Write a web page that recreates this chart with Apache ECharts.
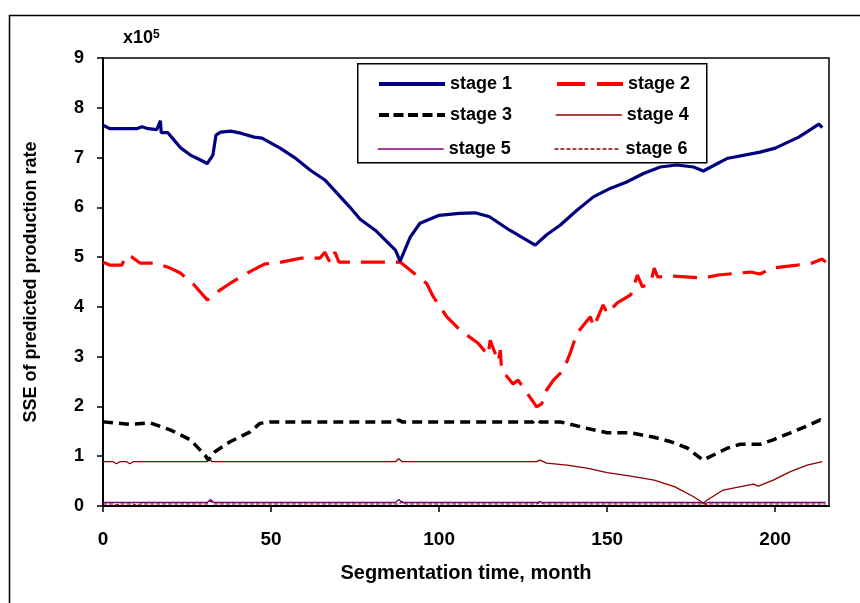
<!DOCTYPE html>
<html>
<head>
<meta charset="utf-8">
<script src="https://cdn.jsdelivr.net/npm/echarts@6/dist/echarts.min.js"></script>
<style>html,body{margin:0;padding:0;background:#fff;}#c{width:860px;height:603px;}</style>
</head>
<body>
<div id="c"></div>
<script>
// Values in units of 1e5
const xTicks = [0, 50, 100, 150, 200];
const yTicks = [0, 1, 2, 3, 4, 5, 6, 7, 8, 9];
const seriesNames = ['stage 1', 'stage 2', 'stage 3', 'stage 4', 'stage 5', 'stage 6'];

const stage1X = [0, 2, 10, 11.6, 13.4, 16, 17.1, 17.3, 19.3, 21.4, 23, 26, 29, 31, 32.7, 33.6, 35, 38, 41, 45, 47.3, 52.7, 57, 61.6, 66, 70.5, 73.5, 76.5, 81, 87, 88.4, 91.4, 94.3, 100, 106, 110.7, 115, 121, 128.6, 132, 136, 141, 145.9, 150.9, 155.8, 160.8, 165.8, 170.7, 175.7, 178.6, 185.6, 195.5, 200, 207, 213, 214];
const stage1Y = [7.65, 7.58, 7.58, 7.62, 7.58, 7.56, 7.74, 7.5, 7.5, 7.33, 7.2, 7.05, 6.95, 6.88, 7.05, 7.45, 7.51, 7.53, 7.49, 7.41, 7.39, 7.19, 7.0, 6.75, 6.55, 6.22, 6.0, 5.76, 5.54, 5.14, 4.92, 5.4, 5.68, 5.84, 5.88, 5.89, 5.81, 5.54, 5.24, 5.45, 5.64, 5.94, 6.21, 6.38, 6.51, 6.68, 6.81, 6.85, 6.81, 6.73, 6.98, 7.11, 7.19, 7.41, 7.67, 7.6];

const stage2X = [0, 2, 5.6, 7, 8.6, 11, 15.5, 20, 23, 27, 31, 34, 38, 44, 48, 53, 56, 59, 64.6, 66, 67.6, 69, 70.2, 72, 76.5, 82, 88.4, 96.3, 98.3, 102.3, 106.3, 111.6, 114.6, 115.2, 117.6, 118.2, 118.6, 122, 123.5, 127.6, 129, 130.5, 132, 134, 137, 139, 141, 145, 146, 148.8, 150, 153, 157, 159, 160.5, 163, 164, 165, 169, 178.6, 183, 192.6, 195.5, 199, 206.5, 211, 214, 215];
const stage2Y = [4.9, 4.84, 4.84, 5.04, 5.0, 4.88, 4.88, 4.78, 4.68, 4.45, 4.14, 4.3, 4.48, 4.72, 4.86, 4.9, 4.94, 4.98, 4.98, 5.1, 4.88, 5.1, 4.9, 4.9, 4.9, 4.9, 4.9, 4.47, 4.2, 3.8, 3.53, 3.27, 3.03, 3.33, 2.9, 3.13, 2.73, 2.45, 2.53, 2.13, 1.99, 2.05, 2.33, 2.53, 2.73, 3.07, 3.47, 3.8, 3.6, 4.04, 3.87, 4.08, 4.24, 4.64, 4.4, 4.5, 4.78, 4.6, 4.62, 4.58, 4.64, 4.7, 4.66, 4.78, 4.84, 4.88, 4.96, 4.9];

const stage3X = [0, 8, 14, 20, 26, 30.4, 31.3, 33.3, 37.8, 43.8, 46.7, 49.7, 87, 88, 89, 128, 129, 130, 136, 144, 150, 157, 164, 169, 174, 178.5, 181.5, 185.7, 189.6, 195.5, 199.4, 204.5, 209.5, 213.4, 215];
const stage3Y = [1.69, 1.64, 1.67, 1.53, 1.33, 1.02, 0.92, 1.09, 1.29, 1.49, 1.66, 1.69, 1.69, 1.73, 1.69, 1.69, 1.74, 1.69, 1.69, 1.56, 1.47, 1.47, 1.38, 1.29, 1.16, 0.92, 1.02, 1.16, 1.24, 1.24, 1.33, 1.47, 1.61, 1.73, 1.67];

const stage4X = [0, 3, 4, 5, 7, 8, 9, 31, 31.7, 32.5, 87, 88, 89, 129, 130, 132, 138, 144, 150, 157, 164, 170, 175.6, 178.6, 179.8, 184.5, 187.5, 193.5, 195, 199.4, 204.5, 209.5, 214];
const stage4Y = [0.89, 0.89, 0.85, 0.89, 0.89, 0.85, 0.89, 0.89, 0.94, 0.89, 0.89, 0.95, 0.89, 0.89, 0.92, 0.86, 0.82, 0.76, 0.67, 0.6, 0.52, 0.39, 0.19, 0.06, 0.12, 0.32, 0.36, 0.44, 0.4, 0.52, 0.69, 0.82, 0.89];

const stage5X = [0, 31, 32, 33, 87, 88, 89, 129, 130, 131, 178, 179, 180, 215];
const stage5Y = [0.07, 0.07, 0.13, 0.07, 0.07, 0.13, 0.07, 0.07, 0.09, 0.07, 0.07, 0.05, 0.07, 0.07];

const stage6X = [0, 3, 4, 5, 9, 10, 11, 31, 32, 33, 88, 89, 90, 129, 130, 131, 178, 179, 180, 215];
const stage6Y = [0.04, 0.04, 0.02, 0.04, 0.04, 0.01, 0.04, 0.04, 0.1, 0.04, 0.04, 0.09, 0.04, 0.04, 0.07, 0.04, 0.04, 0.02, 0.04, 0.04];

function pairs(xs, ys) { return xs.map((x, i) => [x, ys[i]]); }

const styles = [
  { color: '#000080', width: 3.2, type: 'solid' },
  { color: '#FF0000', width: 3.2, type: [24, 11] },
  { color: '#000000', width: 3.5, type: [10, 6] },
  { color: '#8B0000', width: 1.3, type: 'solid' },
  { color: '#800080', width: 1.3, type: 'solid' },
  { color: '#8B0000', width: 1.2, type: [4, 2] }
];
const legendLine = [
  { width: 4, type: 'solid' },
  { width: 4, type: [28, 12] },
  { width: 4, type: [10, 4.5] },
  { width: 1.5, type: 'solid' },
  { width: 1.5, type: 'solid' },
  { width: 1.3, type: [4, 2] }
];
const datas = [
  pairs(stage1X, stage1Y), pairs(stage2X, stage2Y), pairs(stage3X, stage3Y),
  pairs(stage4X, stage4Y), pairs(stage5X, stage5Y), pairs(stage6X, stage6Y)
];

const font = 'Liberation Sans, Arial, sans-serif';
const chart = echarts.init(document.getElementById('c'), null, { renderer: 'canvas' });

function legendItem(i) {
  return { name: seriesNames[i], lineStyle: { color: styles[i].color, width: legendLine[i].width, type: legendLine[i].type } };
}
const legendBase = {
  orient: 'horizontal',
  itemWidth: 66,
  itemHeight: 14,
  itemGap: 43,
  itemStyle: { opacity: 0 },
  textStyle: { fontFamily: font, fontWeight: 'bold', fontSize: 18, color: '#000' }
};

chart.setOption({
  animation: false,
  backgroundColor: '#fff',
  grid: { left: 103, top: 58, right: 31, bottom: 97, show: true, borderColor: '#000', borderWidth: 1.5, backgroundColor: 'transparent' },
  xAxis: {
    type: 'value', min: 0, max: 216, interval: 50,
    name: 'Segmentation time, month', nameLocation: 'middle', nameGap: 57,
    nameTextStyle: { fontFamily: font, fontWeight: 'bold', fontSize: 20, color: '#000' },
    axisLine: { lineStyle: { color: '#000', width: 2 } },
    axisTick: { inside: false, length: 6, lineStyle: { color: '#000', width: 1.5 }, customValues: xTicks },
    axisLabel: { fontFamily: font, fontWeight: 'bold', fontSize: 19, color: '#000', margin: 24, customValues: xTicks },
    splitLine: { show: false }
  },
  yAxis: {
    type: 'value', min: 0, max: 9, interval: 1,
    name: 'SSE of predicted production rate', nameLocation: 'middle', nameGap: 63, nameRotate: 90,
    nameTextStyle: { fontFamily: font, fontWeight: 'bold', fontSize: 18, color: '#000' },
    axisLine: { lineStyle: { color: '#000', width: 2 } },
    axisTick: { inside: false, length: 6, lineStyle: { color: '#000', width: 1.5 }, customValues: yTicks },
    axisLabel: { fontFamily: font, fontWeight: 'bold', fontSize: 18, color: '#000', margin: 19, customValues: yTicks },
    splitLine: { show: false }
  },
  legend: [
    Object.assign({}, legendBase, { data: [legendItem(0), legendItem(1)], left: 372, top: 70 }),
    Object.assign({}, legendBase, { data: [legendItem(2), legendItem(3)], left: 372, top: 101 }),
    Object.assign({}, legendBase, { data: [legendItem(4), legendItem(5)], left: 372, top: 135 })
  ],
  graphic: [
    { type: 'rect', left: 7, top: 13, shape: { x: 0, y: 0, width: 900, height: 650 }, style: { fill: 'none', stroke: '#000', lineWidth: 1.5 }, silent: true, z: -1 },
    { type: 'rect', left: 357, top: 63, shape: { x: 0, y: 0, width: 349, height: 99 }, style: { fill: '#fff', stroke: '#000', lineWidth: 1.5 }, z: 1 },
    { type: 'text', left: 123, top: 29, z: 5,
      style: { text: '{a|x10}{b|5}', rich: {
        a: { fontFamily: font, fontWeight: 'bold', fontSize: 18, fill: '#000' },
        b: { fontFamily: font, fontWeight: 'bold', fontSize: 12, fill: '#000', verticalAlign: 'top', padding: [0, 0, 7, 0] }
      } } }
  ],
  series: datas.map((d, i) => ({
    name: seriesNames[i], type: 'line', data: d, symbol: 'none', smooth: false,
    lineStyle: { color: styles[i].color, width: styles[i].width, type: styles[i].type },
    itemStyle: { color: styles[i].color },
    z: 10 - i
  }))
});
</script>
</body>
</html>
